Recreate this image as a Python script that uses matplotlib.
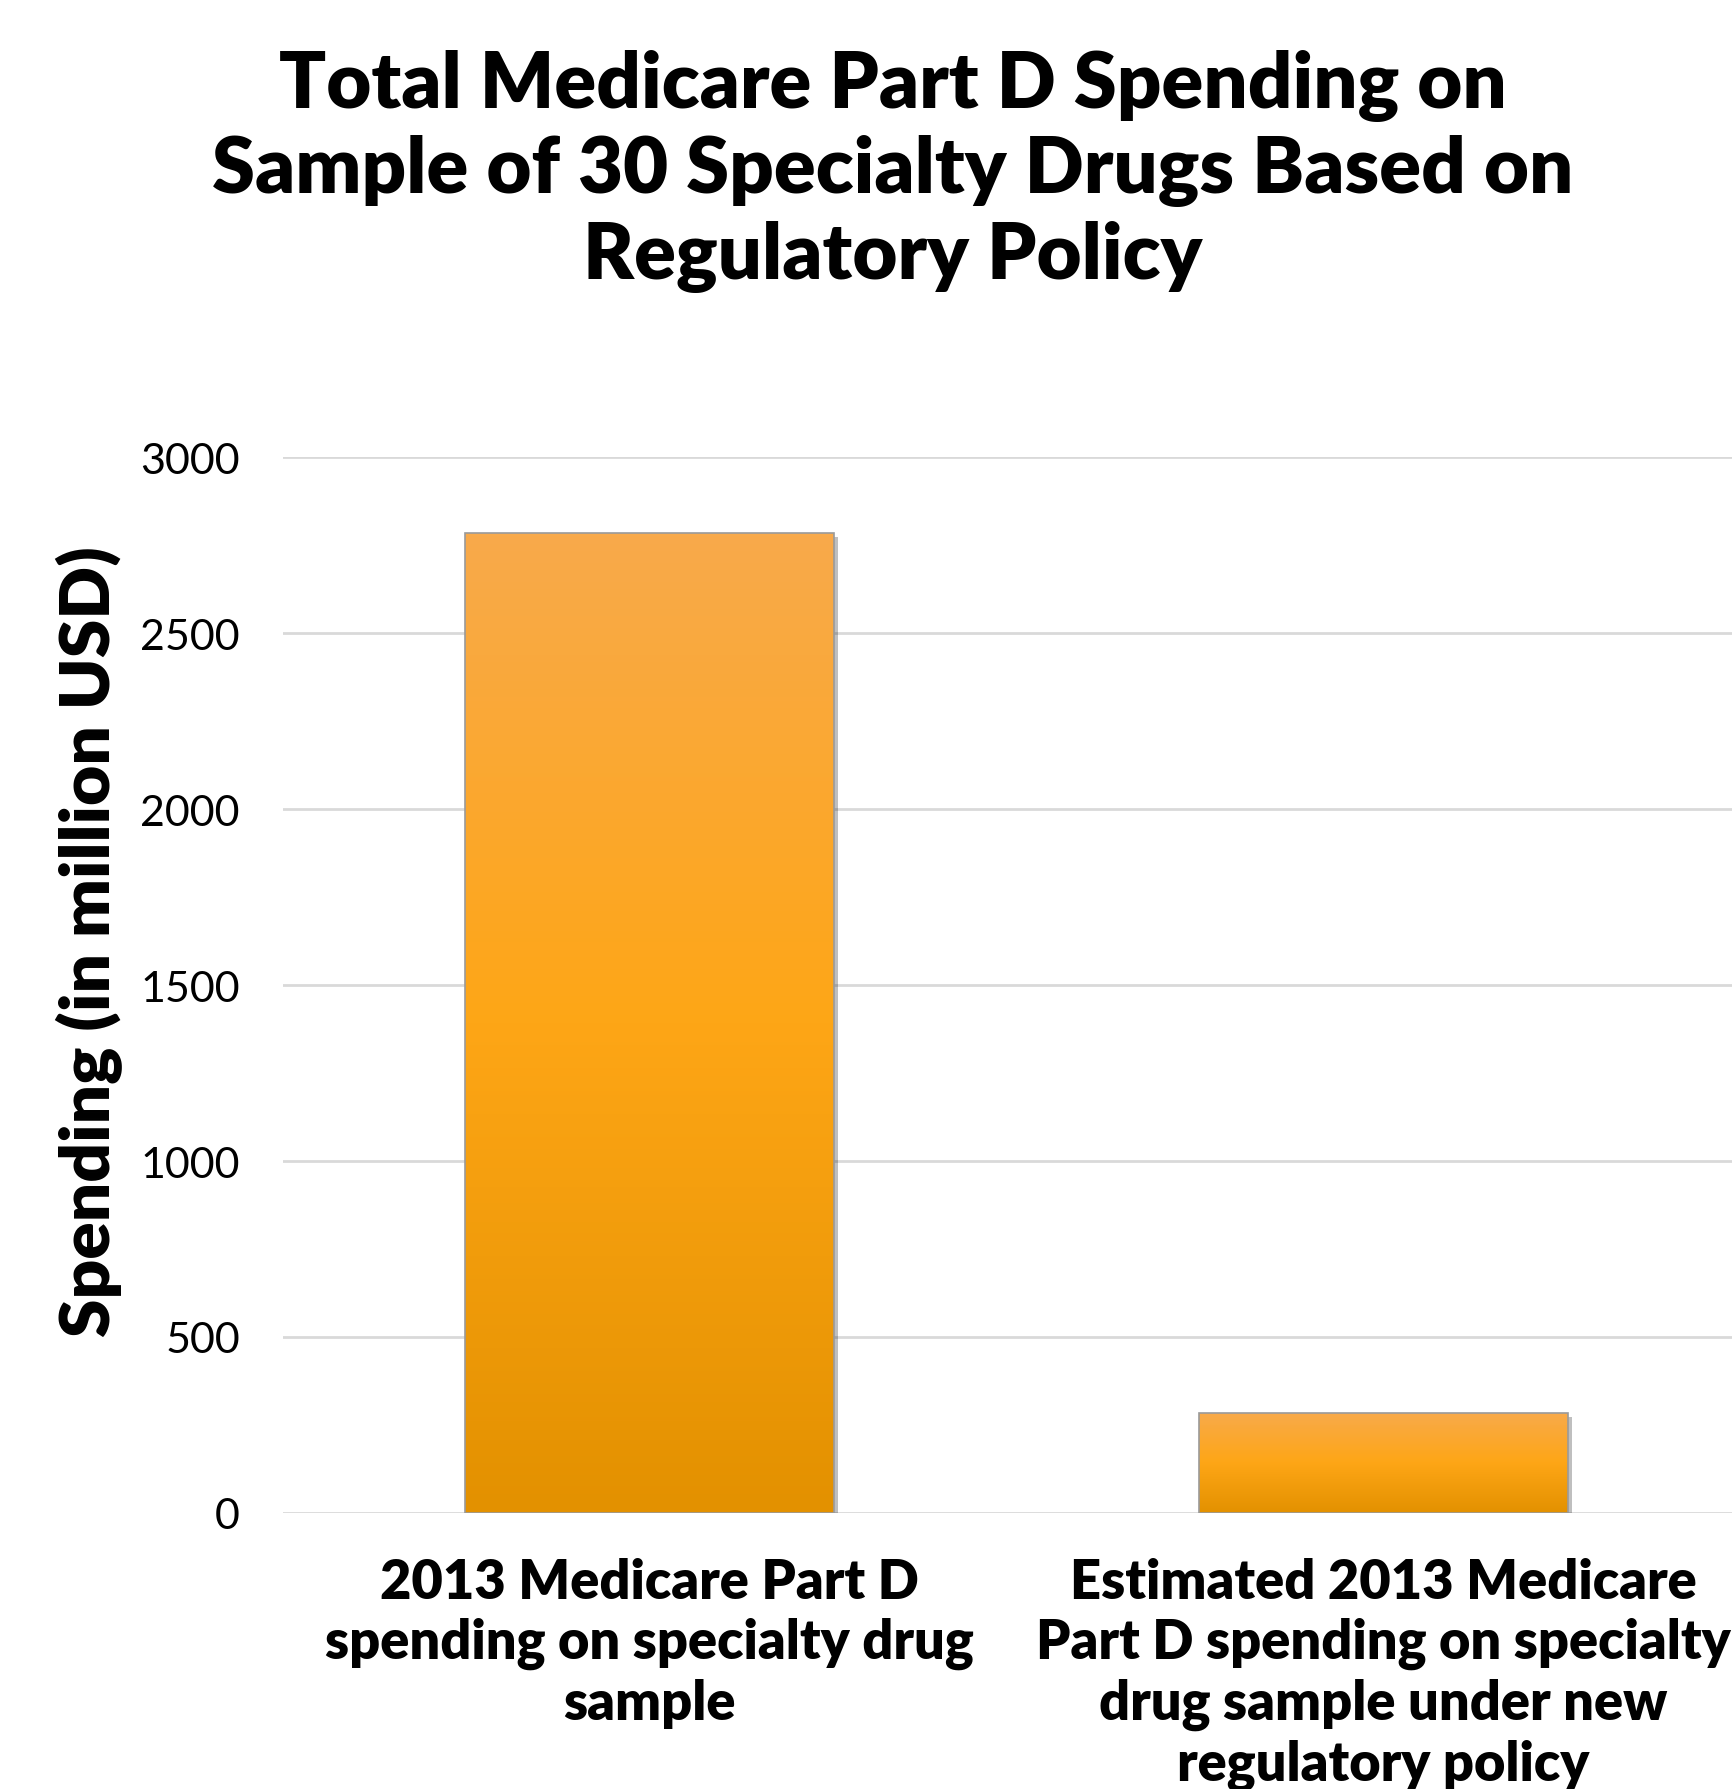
import numpy as np
import matplotlib
matplotlib.use("Agg")
from matplotlib import pyplot as plt
from matplotlib.colors import LinearSegmentedColormap
import matplotlib.patheffects as pe

plt.rcParams['font.family'] = ['Lato', 'DejaVu Sans']

categories = ["2013 Medicare Part D\nspending on specialty drug\nsample",
              "Estimated 2013 Medicare\nPart D spending on specialty\ndrug sample under new\nregulatory policy"]
spending = [2785, 285]
yticks = [0, 500, 1000, 1500, 2000, 2500, 3000]

title = "Total Medicare Part D Spending on\nSample of 30 Specialty Drugs Based on\nRegulatory Policy"

fig = plt.figure(figsize=(17.33, 17.90), dpi=100)
ax = fig.add_axes([0.1633, 0.1542, 0.8465, 0.5899])

x = np.arange(len(categories))
bars = ax.bar(x, spending, width=0.503, color='none', edgecolor='#9a9a9a',
              linewidth=1.2, zorder=3)

# orange vertical gradient inside each bar
grad_cmap = LinearSegmentedColormap.from_list(
    "bar", [(0.0, '#E39100'), (0.5, '#FEA616'), (1.0, '#F8AA4B')])
grad = np.linspace(0, 1, 256).reshape(-1, 1)
for b in bars:
    x0, y0 = b.get_x(), b.get_y()
    w, h = b.get_width(), b.get_height()
    shadow = plt.Rectangle((x0, y0), w, h, facecolor='white', edgecolor='none', zorder=2)
    shadow.set_path_effects([pe.SimplePatchShadow(offset=(3, -3), shadow_rgbFace='#000000', alpha=0.25),
                             pe.Normal()])
    ax.add_patch(shadow)
    im = ax.imshow(grad, cmap=grad_cmap, aspect='auto', origin='lower',
                   extent=[x0, x0 + w, y0, y0 + h], zorder=2.5)
    im.set_clip_path(b)

ax.set_xlim(-0.5, 1.5)
ax.set_ylim(0, 3000)
ax.set_yticks(yticks)
ax.set_yticklabels([str(v) for v in yticks], fontsize=31)
ax.set_xticks(x)
ax.set_xticklabels(categories, fontsize=39, fontweight='heavy', linespacing=1.22)
ax.tick_params(axis='both', length=0)
ax.tick_params(axis='y', pad=31)
ax.tick_params(axis='x', pad=32)
ax.yaxis.grid(True, color='#d9d9d9', linewidth=2)
ax.set_axisbelow(True)
for s in ax.spines.values():
    s.set_visible(False)

fig.text(0.0514, 0.4737, "Spending (in million USD)", rotation=90, ha='center',
         va='center', fontsize=50, fontweight='heavy')

fig.text(0.515, 0.972, title, ha='center', va='top', fontsize=56,
         fontweight='heavy', linespacing=1.23)

fig.savefig("out.png", dpi=100)
